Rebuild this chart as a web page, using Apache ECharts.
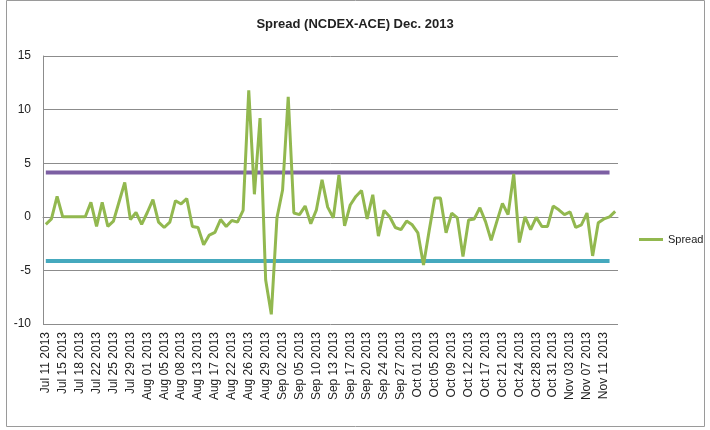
<!DOCTYPE html>
<html>
<head>
<meta charset="utf-8">
<script src="https://cdn.jsdelivr.net/npm/echarts@6/dist/echarts.min.js"></script>
<style>
  html, body { margin: 0; padding: 0; background: #fff; }
  #chart { width: 710px; height: 430px; }
</style>
</head>
<body>
<div id="chart"></div>
<script>
// trading days (every 3rd one is labelled on the axis)
var dates = [
  'Jul 11 2013', 'Jul 12 2013', 'Jul 13 2013', 'Jul 15 2013', 'Jul 16 2013', 'Jul 17 2013',
  'Jul 18 2013', 'Jul 19 2013', 'Jul 20 2013', 'Jul 22 2013', 'Jul 23 2013', 'Jul 24 2013',
  'Jul 25 2013', 'Jul 26 2013', 'Jul 27 2013', 'Jul 29 2013', 'Jul 30 2013', 'Jul 31 2013',
  'Aug 01 2013', 'Aug 02 2013', 'Aug 03 2013', 'Aug 05 2013', 'Aug 06 2013', 'Aug 07 2013',
  'Aug 08 2013', 'Aug 10 2013', 'Aug 12 2013', 'Aug 13 2013', 'Aug 14 2013', 'Aug 16 2013',
  'Aug 17 2013', 'Aug 19 2013', 'Aug 20 2013', 'Aug 22 2013', 'Aug 23 2013', 'Aug 24 2013',
  'Aug 26 2013', 'Aug 27 2013', 'Aug 28 2013', 'Aug 29 2013', 'Aug 30 2013', 'Aug 31 2013',
  'Sep 02 2013', 'Sep 03 2013', 'Sep 04 2013', 'Sep 05 2013', 'Sep 06 2013', 'Sep 07 2013',
  'Sep 10 2013', 'Sep 11 2013', 'Sep 12 2013', 'Sep 13 2013', 'Sep 14 2013', 'Sep 16 2013',
  'Sep 17 2013', 'Sep 18 2013', 'Sep 19 2013', 'Sep 20 2013', 'Sep 21 2013', 'Sep 23 2013',
  'Sep 24 2013', 'Sep 25 2013', 'Sep 26 2013', 'Sep 27 2013', 'Sep 28 2013', 'Sep 30 2013',
  'Oct 01 2013', 'Oct 03 2013', 'Oct 04 2013', 'Oct 05 2013', 'Oct 07 2013', 'Oct 08 2013',
  'Oct 09 2013', 'Oct 10 2013', 'Oct 11 2013', 'Oct 12 2013', 'Oct 14 2013', 'Oct 15 2013',
  'Oct 17 2013', 'Oct 18 2013', 'Oct 19 2013', 'Oct 21 2013', 'Oct 22 2013', 'Oct 23 2013',
  'Oct 24 2013', 'Oct 25 2013', 'Oct 26 2013', 'Oct 28 2013', 'Oct 29 2013', 'Oct 30 2013',
  'Oct 31 2013', 'Nov 01 2013', 'Nov 02 2013', 'Nov 03 2013', 'Nov 05 2013', 'Nov 06 2013',
  'Nov 07 2013', 'Nov 08 2013', 'Nov 09 2013', 'Nov 11 2013', 'Nov 12 2013', 'Nov 13 2013'
]

var spread = [
  -0.7, -0.2, 1.9, 0, 0, 0, 0, 0, 1.35, -0.9, 1.35, -0.9,
  -0.4, 1.4, 3.2, -0.25, 0.4, -0.7, 0.4, 1.6, -0.5, -1.0, -0.5, 1.5,
  1.2, 1.7, -0.9, -1.0, -2.6, -1.7, -1.45, -0.25, -0.9, -0.35, -0.5, 0.6,
  11.8, 2.1, 9.2, -5.9, -9.1, -0.1, 2.5, 11.2, 0.35, 0.2, 1.0, -0.65,
  0.65, 3.45, 0.9, -0.1, 3.9, -0.85, 1.1, 1.9, 2.45, -0.2, 2.05, -1.8,
  0.6, 0.0, -1.0, -1.2, -0.4, -0.75, -1.5, -4.5, -1.3, 1.75, 1.75, -1.5,
  0.35, -0.1, -3.7, -0.3, -0.2, 0.85, -0.45, -2.2, -0.45, 1.25, 0.2, 4.0,
  -2.4, 0.0, -1.2, -0.05, -0.9, -0.9, 1.0, 0.65, 0.2, 0.45, -1.0, -0.75,
  0.35, -3.65, -0.55, -0.2, 0.0, 0.5
]

// control limits drawn as flat lines
var upperLimit = 4.13
var lowerLimit = -4.13
var limitEnd = 'Nov 12 2013'

var yTicks = { min: -10, max: 15, interval: 5 }

var chart = echarts.init(document.getElementById('chart'))
chart.setOption({
  backgroundColor: '#fff',
  animation: false,
  textStyle: { fontFamily: 'Liberation Sans, Arial, sans-serif' },
  title: {
    text: 'Spread (NCDEX-ACE) Dec. 2013',
    left: 'center',
    top: 13,
    textStyle: { fontSize: 13, fontWeight: 'bold', color: '#222' }
  },
  graphic: [{
    type: 'rect',
    shape: { x: 6.5, y: 0.5, width: 698, height: 426 },
    style: { fill: 'none', stroke: '#9a9a9a', lineWidth: 1 },
    silent: true
  }],
  legend: {
    data: ['Spread'],
    left: 634,
    top: 229,
    icon: 'rect',
    itemWidth: 24,
    itemHeight: 3,
    itemGap: 4,
    textStyle: { fontSize: 11, color: '#222' }
  },
  grid: { left: 43, right: 92, top: 56, bottom: 106 },
  xAxis: {
    type: 'category',
    data: dates,
    boundaryGap: true,
    axisLine: { lineStyle: { color: '#8c8c8c' } },
    axisTick: { show: false },
    axisLabel: {
      interval: 2,
      rotate: 90,
      fontSize: 12,
      color: '#222',
      margin: 8
    },
    splitLine: { show: false }
  },
  yAxis: {
    type: 'value',
    min: yTicks.min,
    max: yTicks.max,
    interval: yTicks.interval,
    axisLine: { show: true, lineStyle: { color: '#8c8c8c' } },
    axisTick: { show: false },
    axisLabel: { fontSize: 12, color: '#222', margin: 12 },
    splitLine: { lineStyle: { color: '#8c8c8c', width: 1 } }
  },
  series: [
    {
      name: 'Upper',
      type: 'line',
      data: [[dates[0], upperLimit], [limitEnd, upperLimit]],
      symbol: 'none',
      lineStyle: { color: '#7c5fa3', width: 4 },
      silent: true,
      z: 3
    },
    {
      name: 'Lower',
      type: 'line',
      data: [[dates[0], lowerLimit], [limitEnd, lowerLimit]],
      symbol: 'none',
      lineStyle: { color: '#45a9be', width: 4 },
      silent: true,
      z: 3
    },
    {
      name: 'Spread',
      type: 'line',
      data: spread,
      symbol: 'none',
      itemStyle: { color: '#92b84f' },
      lineStyle: { color: '#92b84f', width: 3 },
      z: 4
    }
  ]
})
</script>
</body>
</html>
